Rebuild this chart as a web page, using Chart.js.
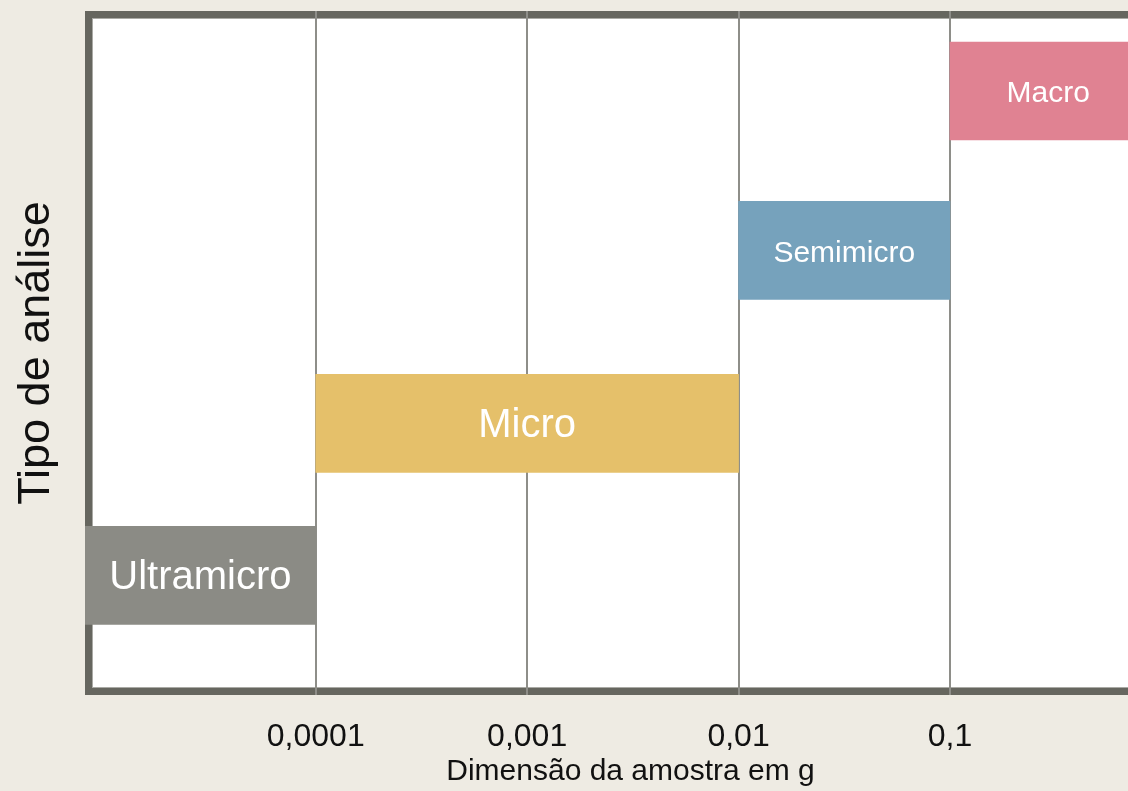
<!DOCTYPE html>
<html lang="pt">
<head>
<meta charset="utf-8">
<title>Tipo de análise por dimensão da amostra</title>
<script src="https://cdn.jsdelivr.net/npm/chart.js@4"></script>
<style>
  html, body { margin: 0; padding: 0; background: #EEEBE3; overflow: hidden; }
  body { width: 1128px; height: 791px; }
  canvas { display: block; }
</style>
</head>
<body>
<canvas id="chart" width="1176" height="791"></canvas>
<script>
// Analysis types and the sample-mass range (g) each one covers
const categories = ['Ultramicro', 'Micro', 'Semimicro', 'Macro'];
const rangeLow   = [0.0000081, 0.0001, 0.01, 0.1];
const rangeHigh  = [0.0001, 0.01, 0.1, 0.85];
// Row value of each analysis type on the vertical axis
const rowValue   = [1.75, 3.97, 6.5, 8.83];

// Logarithmic mass axis
const tickValues = [0.0001, 0.001, 0.01, 0.1];
const tickLabels = ['0,0001', '0,001', '0,01', '0,1'];
const xMin = 0.0000081;
const xMax = 1.173;
const yMin = 0;
const yMax = 10;

// Styling
const barColors = ['#8B8B85', '#E5C06A', '#76A2BC', '#E08292'];
const labelSizes = [40, 40, 30, 30];
const FONT = '"Liberation Sans", Arial, sans-serif';

Chart.defaults.font.family = FONT;

// White plot area with a heavy dark frame (drawn under grid and bars)
const framePlugin = {
  id: 'frame',
  beforeDraw(chart) {
    const { ctx, chartArea: a } = chart;
    const t = 7;
    ctx.save();
    ctx.fillStyle = '#FFFFFF';
    ctx.fillRect(a.left, a.top, a.right - a.left, a.bottom - a.top);
    ctx.fillStyle = '#66665F';
    ctx.fillRect(a.left, a.top, a.right - a.left, t);
    ctx.fillRect(a.left, a.bottom - t, a.right - a.left, t);
    ctx.fillRect(a.left, a.top, t, a.bottom - a.top);
    ctx.fillRect(a.right - t, a.top, t, a.bottom - a.top);
    ctx.fillStyle = '#AAAAA5';
    ctx.fillRect(a.left + t, a.top + t, a.right - a.left - 2 * t, 1);
    ctx.fillRect(a.left + t, a.bottom - t - 1, a.right - a.left - 2 * t, 1);
    ctx.fillRect(a.left + t, a.top + t, 1, a.bottom - a.top - 2 * t);
    ctx.restore();
  }
};

// Category name written in the middle of each bar
const barLabelPlugin = {
  id: 'barLabels',
  afterDatasetsDraw(chart) {
    const { ctx } = chart;
    const meta = chart.getDatasetMeta(0);
    ctx.save();
    ctx.fillStyle = '#FFFFFF';
    ctx.textAlign = 'center';
    ctx.textBaseline = 'middle';
    meta.data.forEach((bar, i) => {
      const { x, y, base } = bar.getProps(['x', 'y', 'base'], true);
      ctx.font = labelSizes[i] + 'px ' + FONT;
      ctx.fillText(categories[i], (x + base) / 2, y + 3);
    });
    ctx.restore();
  }
};

new Chart(document.getElementById('chart'), {
  type: 'bar',
  data: {
    datasets: [{
      data: categories.map((c, i) => ({ x: [rangeLow[i], rangeHigh[i]], y: rowValue[i] })),
      backgroundColor: barColors,
      borderWidth: 0,
      borderSkipped: false,
      barThickness: 98,
      grouped: false
    }]
  },
  options: {
    indexAxis: 'y',
    responsive: false,
    animation: false,
    devicePixelRatio: 1,
    layout: { padding: { top: 11, left: 0, right: 0, bottom: 0 } },
    plugins: {
      legend: { display: false },
      tooltip: { enabled: false }
    },
    scales: {
      x: {
        type: 'logarithmic',
        position: 'bottom',
        min: xMin,
        max: xMax,
        bounds: 'data',
        afterBuildTicks(scale) {
          scale.ticks = tickValues.map(v => ({ value: v }));
        },
        afterFit(scale) { scale.height = 96; },
        grid: { color: '#8E8E89', lineWidth: 2, drawTicks: false },
        border: { display: false },
        ticks: {
          autoSkip: false,
          maxRotation: 0,
          padding: 23,
          color: '#111111',
          font: { size: 32 },
          callback: (value, index) => tickLabels[index]
        },
        title: {
          display: true,
          text: 'Dimensão da amostra em g',
          color: '#111111',
          font: { size: 30 },
          padding: { top: 0, bottom: 1 }
        }
      },
      y: {
        type: 'linear',
        offset: false,
        min: yMin,
        max: yMax,
        afterFit(scale) { scale.width = 85; },
        grid: { display: false },
        border: { display: false },
        ticks: { display: false },
        title: {
          display: true,
          text: 'Tipo de análise',
          color: '#111111',
          font: { size: 45 },
          padding: { top: 10, bottom: 0 }
        }
      }
    }
  },
  plugins: [framePlugin, barLabelPlugin]
});
</script>
</body>
</html>
